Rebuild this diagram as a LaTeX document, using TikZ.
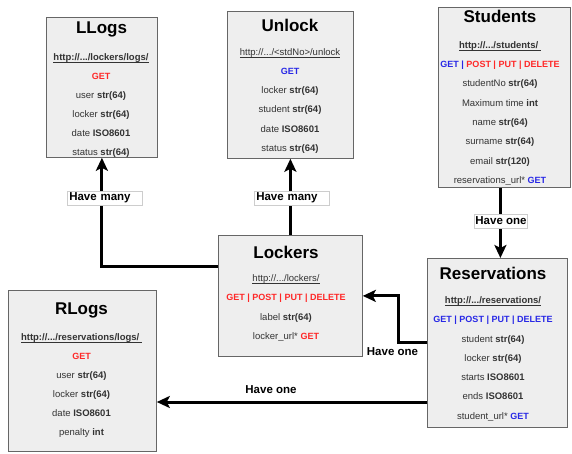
\documentclass[tikz,border=0pt]{standalone}
\usepackage{fontspec}
\setmainfont{Liberation Sans}
\usetikzlibrary{arrows.meta,calc}
\definecolor{boxfill}{RGB}{238,238,238}
\definecolor{boxdraw}{RGB}{102,102,102}
\definecolor{fieldtxt}{RGB}{51,51,51}
\definecolor{mred}{RGB}{255,40,40}
\definecolor{mblue}{RGB}{40,40,230}
\definecolor{lblborder}{RGB}{205,205,205}
\newcommand{\cred}[1]{\textcolor{mred}{#1}}
\newcommand{\cblue}[1]{\textcolor{mblue}{#1}}
\newcommand{\meth}[1]{{\fontsize{9}{11}\selectfont\bfseries #1}}
\newcommand{\myul}[1]{\underline{\smash{#1}}}
\newcommand{\fieldrows}[5]{%
  \foreach \ftxt [count=\i] in {#5} {\node[fld] (#1-\i) at (#2, {#3+3.4+(\i-1)*#4}) {\ftxt};}}
\begin{document}
\begin{tikzpicture}[x=1pt,y=-1pt,
  box/.style={draw=boxdraw, fill=boxfill, line width=0.8pt, anchor=north west, inner sep=0},
  ttl/.style={font=\fontsize{17}{20}\selectfont\bfseries, anchor=base, inner sep=0},
  fld/.style={font=\fontsize{9.5}{11}\selectfont, text=fieldtxt, anchor=base, inner sep=0},
  conn/.style={line width=3pt, -{Stealth[length=13pt,width=12pt,inset=3pt]}},
  lbl/.style={font=\fontsize{11.5}{13}\selectfont\bfseries, fill=white, inner sep=1pt},
]
\useasboundingbox (0,0) rectangle (572,454);

% boxes
\node[box, minimum width=111pt, minimum height=140pt] (llogs) at (46,17) {};
\node[box, minimum width=126pt, minimum height=147pt] (unlock) at (227,11) {};
\node[box, minimum width=132pt, minimum height=180pt] (students) at (438,7) {};
\node[box, minimum width=144pt, minimum height=121pt] (lockers) at (218,235) {};
\node[box, minimum width=140pt, minimum height=169pt] (reservations) at (427,258) {};
\node[box, minimum width=148pt, minimum height=161pt] (rlogs) at (8,290) {};

% titles
\node[ttl] (llogs-t) at (101.5,34) {LLogs};
\node[ttl] (unlock-t) at (290,32) {Unlock};
\node[ttl] (students-t) at (500,23) {Students};
\node[ttl] (lockers-t) at (286,258) {Lockers};
\node[ttl] (reservations-t) at (493,279) {Reservations};
\node[ttl] (rlogs-t) at (81.5,314) {RLogs};

% fields
\fieldrows{llogs}{101}{57}{19}{{\myul{\textbf{http://.../lockers/logs/}}},{\meth{\cred{GET}}},{user \textbf{str(64)}},{locker \textbf{str(64)}},{date \textbf{ISO8601}},{status \textbf{str(64)}}}
\fieldrows{unlock}{290}{52}{19.2}{{\myul{http://.../<stdNo>/unlock}},{\meth{\cblue{GET}}},{locker \textbf{str(64)}},{student \textbf{str(64)}},{date \textbf{ISO8601}},{status \textbf{str(64)}}}
\fieldrows{students}{500}{45}{19.3}{{\myul{\textbf{http://.../students/\ }}},{\meth{\cblue{GET} \cblue{|} \cred{POST | PUT | DELETE}}},{studentNo \textbf{str(64)}},{Maximum time \textbf{int}},{name \textbf{str(64)}},{surname \textbf{str(64)}},{email \textbf{str(120)}},{reservations\_url* \meth{\cblue{GET}}}}
\fieldrows{lockers}{286}{278}{19.3}{{\myul{http://.../lockers/}},{\meth{\cred{GET | POST | PUT | DELETE}}},{label \textbf{str(64)}},{locker\_url* \meth{\cred{GET}}}}
\fieldrows{reservations}{493}{300}{19.3}{{\myul{\textbf{http://.../reservations/}}},{\meth{\cblue{GET | POST | PUT | DELETE}}},{student \textbf{str(64)}},{locker \textbf{str(64)}},{starts \textbf{ISO8601}},{ends \textbf{ISO8601}},{student\_url* \meth{\cblue{GET}}}}
\fieldrows{rlogs}{81.5}{337}{19}{{\myul{\textbf{http://.../reservations/logs/\ }}},{\meth{\cred{GET}}},{user \textbf{str(64)}},{locker \textbf{str(64)}},{date \textbf{ISO8601}},{penalty \textbf{int}}}

% connectors
\coordinate (r2) at ([yshift=-144pt]reservations.north west);
\draw[conn] ([yshift=-31pt]lockers.north west) -| (llogs.south);
\draw[conn] (lockers.north) -- (unlock.south);
\draw[conn] ([xshift=-4pt]students.south) -- ([xshift=-4pt]students.south |- reservations.north);
\draw[conn] ([yshift=-84pt]reservations.north west) -| ([xshift=36pt]lockers.east) -- (lockers.east);
\draw[conn] (r2) -- (rlogs.east |- r2);

% labels
\node[lbl, draw=lblborder, line width=0.5pt, text width=71pt, align=left, inner xsep=2pt, minimum height=14pt, anchor=west] (lm1) at (67,198) {Have many};
\node[lbl, draw=lblborder, line width=0.5pt, text width=71pt, align=left, inner xsep=2pt, minimum height=14pt, anchor=west] (lm2) at (254,198) {Have many};
\node[lbl, draw=lblborder, line width=0.5pt, minimum height=14pt] (lo1) at (501,221) {Have one};
\node[lbl] (lo2) at (392.5,352) {Have one};
\node[lbl] (lo3) at (271,390) {Have one};
\end{tikzpicture}
\end{document}
